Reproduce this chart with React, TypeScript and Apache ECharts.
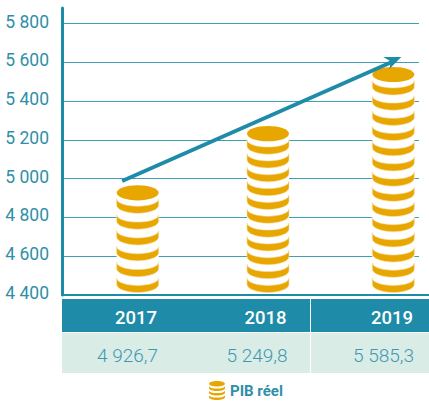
import React, { useEffect, useRef } from "react";
import * as echarts from "echarts";

const years = ["2017", "2018", "2019"];
const tableValues = ["4 926,7", "5 249,8", "5 585,3"];
const stackTops = [4926.7, 5232, 5537];
const coinCounts = [6, 11, 14];
const yTicks = [4400, 4600, 4800, 5000, 5200, 5400, 5600, 5800];
const trendFrom = [0, 4988];
const trendTo = [2, 5627];

const TEAL = "#1e8ca8";
const GOLD = "#e8a600";
const LABEL = "#2f8fa8";
const FONT = "Roboto";

const bandPath = "M0 0V6.5C0 10.8 9.4 14.5 21 14.5S42 10.8 42 6.5V0C42 4.2 32.6 7.4 21 7.4S0 4.2 0 0Z";
const legendIcon =
  "path://M8 0C12.4 0 16 1.2 16 2.8S12.4 5.6 8 5.6S0 4.4 0 2.8S3.6 0 8 0Z" +
  "M0 5V7C0 8.8 3.6 10 8 10S16 8.8 16 7V5C16 6.6 12.4 7.6 8 7.6S0 6.6 0 5Z" +
  "M0 9.5V11.5C0 13.3 3.6 14.5 8 14.5S16 13.3 16 11.5V9.5C16 11.1 12.4 12.1 8 12.1S0 11.1 0 9.5Z" +
  "M0 14V16C0 17.8 3.6 19 8 19S16 17.8 16 16V14C16 15.6 12.4 16.6 8 16.6S0 15.6 0 14Z";

const stackNudge = [0, 3, 1];

function renderStack(params: any, api: any) {
  const i = api.value(0);
  const top = api.coord([i, api.value(1)]);
  const base = api.coord([i, yTicks[0]]);
  const cx = top[0] + stackNudge[i];
  const cyTop = top[1];
  const n = coinCounts[i];
  const lastBottom = base[1] - 2.5;
  const firstBottom = cyTop + 20.5;
  const step = (lastBottom - firstBottom) / (n - 1);
  const children: any[] = [
    {
      type: "rect",
      shape: { x: cx - 21, y: cyTop, width: 42, height: lastBottom - cyTop - 6 },
      style: { fill: "#ffffff" },
    },
  ];
  for (let k = 0; k < n; k++) {
    const b = firstBottom + k * step;
    children.push({
      type: "path",
      shape: { pathData: bandPath, layout: "cover", x: cx - 21, y: b - 14.5, width: 42, height: 14.5 },
      style: { fill: GOLD, stroke: "#f6dfa6", lineWidth: 0.6 },
    });
  }
  children.push({
    type: "ellipse",
    shape: { cx, cy: cyTop, rx: 21, ry: 7.6 },
    style: { fill: GOLD },
  });
  return { type: "group", children };
}

function renderTrend(params: any, api: any) {
  if (params.dataIndex !== 0) return { type: "group", children: [] };
  const a = api.coord(trendFrom);
  const b = api.coord(trendTo);
  const x0 = a[0] - 15.5;
  const y0 = a[1];
  const x1 = b[0] + 8.5;
  const y1 = b[1];
  return {
    type: "group",
    children: [
      {
        type: "line",
        shape: { x1: x0, y1: y0, x2: x1 - 9, y2: y1 + 5 },
        style: { stroke: TEAL, lineWidth: 3.8 },
      },
      {
        type: "polygon",
        shape: {
          points: [
            [x1 - 17.5, y1],
            [x1 + 0.5, y1],
            [x1 - 11.5, y1 + 12],
            [x1 - 10, y1 + 4.5],
          ],
        },
        style: { fill: TEAL },
      },
    ],
  };
}

const tableLeft = 62;
const headerTop = 299;
const headerH = 33;
const rowTop = 333;
const rowH = 40;
const headerCenters = [136, 265.5, 392];
const valueCenters = [127.5, 257, 383.5];

export default function App() {
  const ref = useRef<HTMLDivElement>(null);
  useEffect(() => {
    const chart = echarts.init(ref.current!, null, { renderer: "svg" });
    const yCommon = { type: "value", min: 4400, max: 5880, interval: 200 };
    chart.setOption({
      animation: false,
      backgroundColor: "#ffffff",
      textStyle: { fontFamily: FONT },
      grid: [
        { left: 62, width: 357, top: 8, height: 287, outerBoundsMode: "none" },
        { left: 74, width: 382, top: 8, height: 287, outerBoundsMode: "none" },
      ],
      xAxis: [
        {
          type: "value",
          gridIndex: 0,
          min: 0,
          max: 1,
          axisLine: { show: true, lineStyle: { color: TEAL, width: 2 } },
          axisTick: { show: false },
          axisLabel: { show: false },
          splitLine: { show: false },
        },
        {
          type: "category",
          gridIndex: 1,
          data: years,
          axisLine: { show: true, lineStyle: { color: TEAL, width: 2 } },
          axisTick: { show: false },
          axisLabel: { show: false },
          splitLine: { show: false },
        },
      ],
      yAxis: [
        {
          ...yCommon,
          gridIndex: 0,
          axisLine: { show: true, lineStyle: { color: TEAL, width: 3 } },
          axisTick: { show: false },
          axisLabel: {
            color: LABEL,
            fontFamily: FONT,
            fontSize: 17.5,
            margin: 13,
            verticalAlign: "bottom",
            lineHeight: 4,
            showMaxLabel: false,
            formatter: (v: number) =>
              yTicks.includes(v) ? `${Math.floor(v / 1000)} ${String(v % 1000).padStart(3, "0")}` : "",
          },
          splitLine: { show: true, showMinLine: false, showMaxLine: false, lineStyle: { color: "#3f9fb6", width: 1 } },
        },
        {
          ...yCommon,
          gridIndex: 1,
          show: false,
          splitLine: { show: false },
        },
      ],
      legend: {
        left: 209,
        top: 381,
        padding: 0,
        itemWidth: 16,
        itemHeight: 20,
        itemGap: 4,
        data: [{ name: "PIB réel", icon: legendIcon }],
        textStyle: { color: LABEL, fontFamily: FONT, fontSize: 15, fontWeight: 700 },
      },
      series: [
        {
          type: "custom",
          name: "PIB réel",
          xAxisIndex: 1,
          yAxisIndex: 1,
          clip: false,
          z: 3,
          itemStyle: { color: GOLD },
          renderItem: renderStack,
          data: years.map((_, i) => [i, stackTops[i]]),
        },
        {
          type: "custom",
          name: "Tendance",
          xAxisIndex: 1,
          yAxisIndex: 1,
          clip: false,
          z: 4,
          renderItem: renderTrend,
          data: [trendFrom, trendTo],
        },
      ],
      graphic: [
        { type: "rect", shape: { x: tableLeft, y: headerTop, width: 367, height: headerH }, style: { fill: TEAL } },
        { type: "rect", shape: { x: tableLeft, y: rowTop, width: 367, height: rowH }, style: { fill: "#d9ece5" } },
        { type: "rect", shape: { x: 310, y: headerTop, width: 1, height: rowTop + rowH - headerTop }, style: { fill: "#ffffff" } },
        ...years.map((y, i) => ({
          type: "text",
          x: headerCenters[i],
          y: headerTop + headerH / 2 + 2,
          style: { text: y, fill: "#ffffff", font: `500 18.5px ${FONT}`, textAlign: "center", textVerticalAlign: "middle" },
        })),
        ...tableValues.map((v, i) => ({
          type: "text",
          x: valueCenters[i],
          y: rowTop + 22,
          style: { text: v, fill: "#3f98b2", font: `300 19px ${FONT}`, textAlign: "center", textVerticalAlign: "middle" },
        })),
      ],
    });
    return () => chart.dispose();
  }, []);
  return <div ref={ref} style={{ position: "absolute", left: 0, top: 0, width: 429, height: 403 }} />;
}
